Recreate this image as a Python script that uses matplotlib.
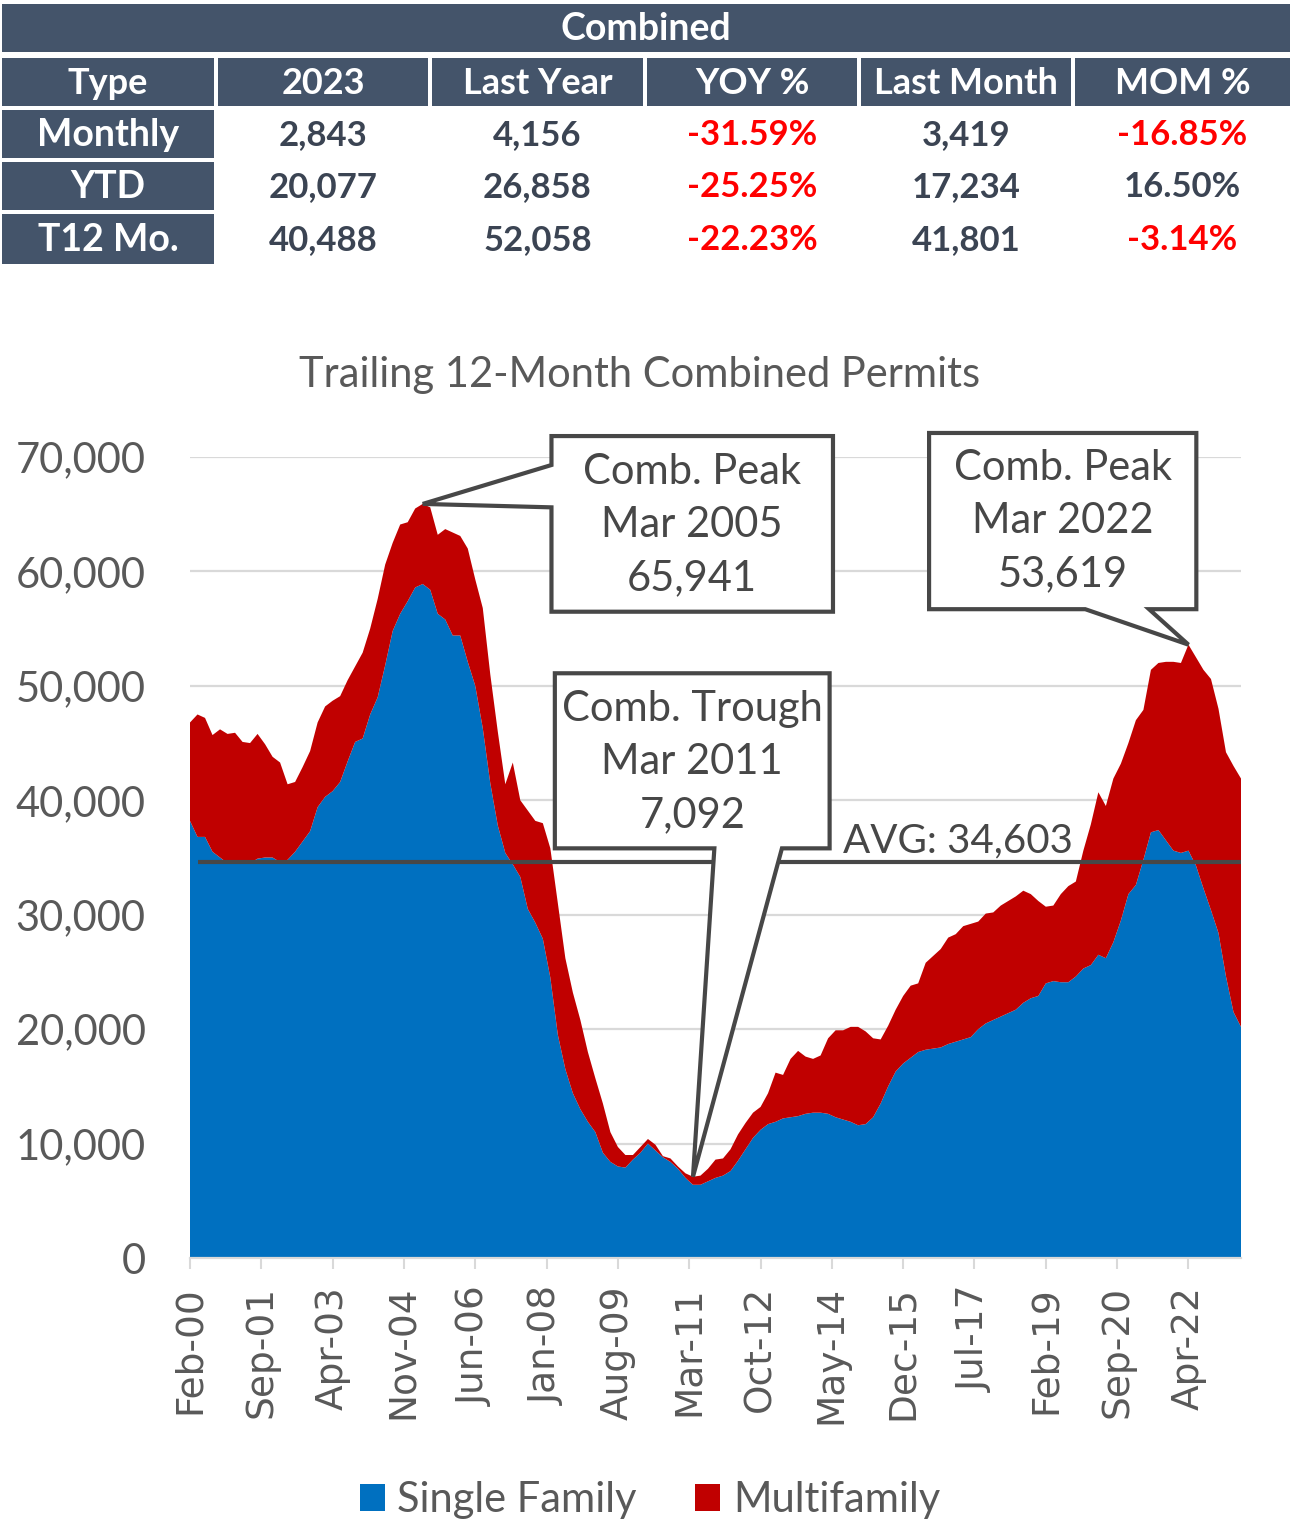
import numpy as np
import pandas as pd
import matplotlib
matplotlib.use("Agg")
import matplotlib.pyplot as plt
from matplotlib.patches import Rectangle, Polygon, Patch

# ---- table data ----
tbl_title = "Combined"
tbl_cols = ["Type", "2023", "Last Year", "YOY %", "Last Month", "MOM %"]
row_labels = ["Monthly", "YTD", "T12 Mo."]
cur_year = [2843, 20077, 40488]
last_year = [4156, 26858, 52058]
yoy_pct = [-31.59, -25.25, -22.23]
last_month = [3419, 17234, 41801]
mom_pct = [-16.85, 16.50, -3.14]

# ---- chart data: trailing 12-month permits, every 2nd month, in thousands ----
dates = pd.date_range("2000-02-01", "2023-06-01", freq="2MS")
combined_k = [
    46.8, 47.5, 47.2, 45.7, 46.2, 45.8, 45.9, 45.1, 45.0, 45.8,
    44.9, 43.8, 43.3, 41.4, 41.6, 42.9, 44.3, 46.8, 48.2, 48.7,
    49.1, 50.5, 51.7, 52.9, 55.0, 57.6, 60.6, 62.5, 64.1, 64.3,
    65.5, 65.9, 65.6, 63.2, 63.7, 63.4, 63.1, 62.0, 59.3, 56.8,
    51.0, 46.0, 41.4, 43.3, 40.0, 39.1, 38.2, 38.0, 35.8, 31.0,
    26.2, 23.2, 20.8, 18.0, 15.7, 13.5, 11.0, 9.7, 9.0, 9.0,
    9.7, 10.4, 9.9, 8.9, 8.7, 8.0, 7.4, 7.1, 7.2, 7.8,
    8.6, 8.7, 9.5, 10.8, 11.8, 12.7, 13.2, 14.4, 16.2, 16.0,
    17.4, 18.1, 17.6, 17.4, 17.7, 19.2, 19.9, 19.9, 20.2, 20.2,
    19.8, 19.2, 19.1, 20.3, 21.7, 22.9, 23.8, 24.0, 25.8, 26.4,
    27.0, 28.0, 28.3, 29.0, 29.2, 29.4, 30.1, 30.2, 30.8, 31.2,
    31.6, 32.1, 31.8, 31.2, 30.7, 30.8, 31.8, 32.5, 32.9, 35.6,
    37.9, 40.7, 39.5, 41.9, 43.2, 45.0, 47.0, 47.9, 51.4, 52.0,
    52.1, 52.1, 52.0, 53.6, 52.5, 51.4, 50.6, 48.0, 44.2, 43.0,
    41.9,
]
single_family_k = [
    38.2, 36.8, 36.8, 35.5, 35.0, 34.5, 34.7, 34.7, 34.5, 34.9,
    35.0, 35.0, 34.6, 34.8, 35.5, 36.4, 37.3, 39.4, 40.3, 40.8,
    41.6, 43.4, 45.1, 45.4, 47.5, 49.0, 51.8, 54.8, 56.3, 57.4,
    58.6, 58.9, 58.4, 56.3, 55.8, 54.4, 54.4, 52.1, 50.0, 46.3,
    41.5, 37.8, 35.4, 34.4, 33.3, 30.5, 29.3, 27.9, 24.5, 19.5,
    16.5, 14.4, 13.0, 11.9, 11.0, 9.2, 8.4, 8.0, 7.9, 8.6,
    9.2, 10.0, 9.4, 8.8, 8.4, 7.8, 7.0, 6.4, 6.4, 6.7,
    7.0, 7.2, 7.6, 8.5, 9.5, 10.5, 11.2, 11.7, 11.9, 12.2,
    12.3, 12.4, 12.6, 12.7, 12.7, 12.6, 12.3, 12.1, 11.9, 11.6,
    11.7, 12.3, 13.5, 15.0, 16.3, 17.0, 17.5, 18.0, 18.2, 18.3,
    18.4, 18.7, 18.9, 19.1, 19.3, 20.0, 20.5, 20.8, 21.1, 21.4,
    21.7, 22.3, 22.7, 22.9, 24.0, 24.2, 24.1, 24.1, 24.6, 25.3,
    25.6, 26.5, 26.2, 27.6, 29.5, 31.8, 32.6, 34.8, 37.2, 37.4,
    36.5, 35.6, 35.4, 35.6, 34.3, 32.3, 30.4, 28.4, 24.6, 21.5,
    20.2,
]
avg_value = 34603
peak1_text = "Comb. Peak\nMar 2005\n65,941"
peak2_text = "Comb. Peak\nMar 2022\n53,619"
trough_text = "Comb. Trough\nMar 2011\n7,092"

combined = np.array(combined_k) * 1000
single = np.array(single_family_k) * 1000
multi = combined - single
x = (dates.year - 2000) * 12 + dates.month - 2   # months since Feb-00

all_months = pd.date_range("2000-02-01", "2023-06-01", freq="MS")
tick_pos = np.arange(0, len(all_months), 19)
tick_lbl = [all_months[i].strftime("%b-%y") for i in tick_pos]

DARK = "#44546A"
VAL = "#3B4453"
RED = "#FF0000"
GRAY = "#595959"
LINE = "#474747"
FONT = "Lato"

W, H = 1292, 1527
fig = plt.figure(figsize=(W / 100, H / 100), dpi=100)


def fx(px):
    return px / W


def fy(py):
    return 1 - py / H


def cell(x0, y0, x1, y1, color):
    fig.add_artist(Rectangle((fx(x0), fy(y1)), fx(x1) - fx(x0), fy(y0) - fy(y1),
                             transform=fig.transFigure, facecolor=color,
                             edgecolor="none"))


# ---- table ----
col_edges = [(2, 214), (218, 428), (432, 643), (647, 857), (861, 1071), (1075, 1290)]
row_edges = [(110, 158), (162, 210), (214, 264)]

cell(2, 4, 1290, 52, DARK)
fig.text(fx(646), fy(29), tbl_title, ha="center", va="center", color="white",
         fontsize=27, fontweight="bold", family=FONT)
for (c0, c1), name in zip(col_edges, tbl_cols):
    cell(c0, 58, c1, 106, DARK)
    fig.text(fx((c0 + c1) / 2), fy(83), name, ha="center", va="center",
             color="white", fontsize=26, fontweight="bold", family=FONT)

for r, (r0, r1) in enumerate(row_edges):
    cy = (r0 + r1) / 2 + 1
    cell(col_edges[0][0], r0, col_edges[0][1], r1, DARK)
    fig.text(fx(sum(col_edges[0]) / 2), fy(cy), row_labels[r], ha="center",
             va="center", color="white", fontsize=27, fontweight="bold", family=FONT)
    vals = [(f"{cur_year[r]:,}", VAL), (f"{last_year[r]:,}", VAL),
            (f"{yoy_pct[r]:.2f}%", RED if yoy_pct[r] < 0 else VAL),
            (f"{last_month[r]:,}", VAL),
            (f"{mom_pct[r]:.2f}%", RED if mom_pct[r] < 0 else VAL)]
    for (c0, c1), (txt, col) in zip(col_edges[1:], vals):
        fig.text(fx((c0 + c1) / 2), fy(cy), txt, ha="center", va="center",
                 color=col, fontsize=25, fontweight="bold", family=FONT)

# ---- chart ----
fig.text(fx(640), fy(375), "Trailing 12-Month Combined Permits", ha="center",
         va="center", color=GRAY, fontsize=30, family=FONT)

ax = fig.add_axes([fx(190), fy(1258), fx(1241) - fx(190), fy(457) - fy(1258)])
ax.stackplot(x, single, multi, colors=["#0070C0", "#C00000"], linewidth=0, zorder=2)
ax.set_xlim(0, x[-1])
ax.set_ylim(0, 70000)
ax.set_yticks(np.arange(0, 70001, 10000))
ax.set_yticklabels([f"{v:,}" for v in range(0, 70001, 10000)], family=FONT,
                   fontsize=30, color=GRAY)
ax.tick_params(axis="y", length=0, pad=32)
ax.set_xticks(tick_pos)
ax.set_xticklabels(tick_lbl, rotation=90, family="DejaVu Sans", fontsize=27,
                   color=GRAY)
ax.tick_params(axis="x", length=8, width=1.5, color="#D9D9D9", pad=12)
ax.grid(axis="y", color="#D9D9D9", linewidth=1.6, zorder=0)
ax.set_axisbelow(True)
for s in ["top", "right", "left"]:
    ax.spines[s].set_visible(False)
ax.spines["bottom"].set_color("#D9D9D9")
ax.spines["bottom"].set_linewidth(1.6)

ax.hlines(avg_value, 2, x[-1], color=LINE, linewidth=3, zorder=4)
ax.text(174, avg_value + 250, f"AVG: {avg_value:,}", ha="left", va="bottom",
        color=LINE, fontsize=29, family=FONT, zorder=4)

# ---- callouts ----
i_pk1 = int(np.argmax(combined[:80]))
i_pk2 = 120 + int(np.argmax(combined[120:]))
i_tr = int(np.argmin(combined))
tip1 = (x[i_pk1], combined[i_pk1])
tip2 = (x[i_pk2], combined[i_pk2])
tip3 = (x[i_tr], combined[i_tr])


def callout(pts, text, cx, cy):
    ax.add_patch(Polygon(pts, closed=True, facecolor="white", edgecolor=LINE,
                         linewidth=3, joinstyle="miter", clip_on=False, zorder=6))
    ax.text(cx, cy, text, ha="center", va="center", color=LINE, fontsize=30,
            family=FONT, linespacing=1.48, zorder=7, clip_on=False)


x0, x1, yt, yb = 96.3, 171.3, 71830, 56480
callout([(x0, yt), (x1, yt), (x1, yb), (x0, yb), (x0, 65600), tip1, (x0, 69300)],
        peak1_text, (x0 + x1) / 2, 64050)

x0, x1, yt, yb = 196.9, 268.1, 72100, 56700
callout([(x0, yt), (x1, yt), (x1, yb), (255.5, yb), tip2, (238.5, yb), (x0, yb)],
        peak2_text, (x0 + x1) / 2, 64400)

x0, x1, yt, yb = 97.2, 170.4, 51100, 35800
callout([(x0, yt), (x1, yt), (x1, yb), (157.7, yb), tip3, (139.7, yb), (x0, yb)],
        trough_text, (x0 + x1) / 2, 43350)

# ---- legend ----
handles = [Patch(facecolor="#0070C0", label="Single Family"),
           Patch(facecolor="#C00000", label="Multifamily")]
leg = fig.legend(handles=handles, loc="center", bbox_to_anchor=(fx(650), fy(1500)),
                 ncol=2, frameon=False, handlelength=0.6, handleheight=0.6,
                 handletextpad=0.3, columnspacing=1.4,
                 prop={"family": FONT, "size": 30})
for t in leg.get_texts():
    t.set_color(GRAY)

fig.savefig("out.png", dpi=100)
